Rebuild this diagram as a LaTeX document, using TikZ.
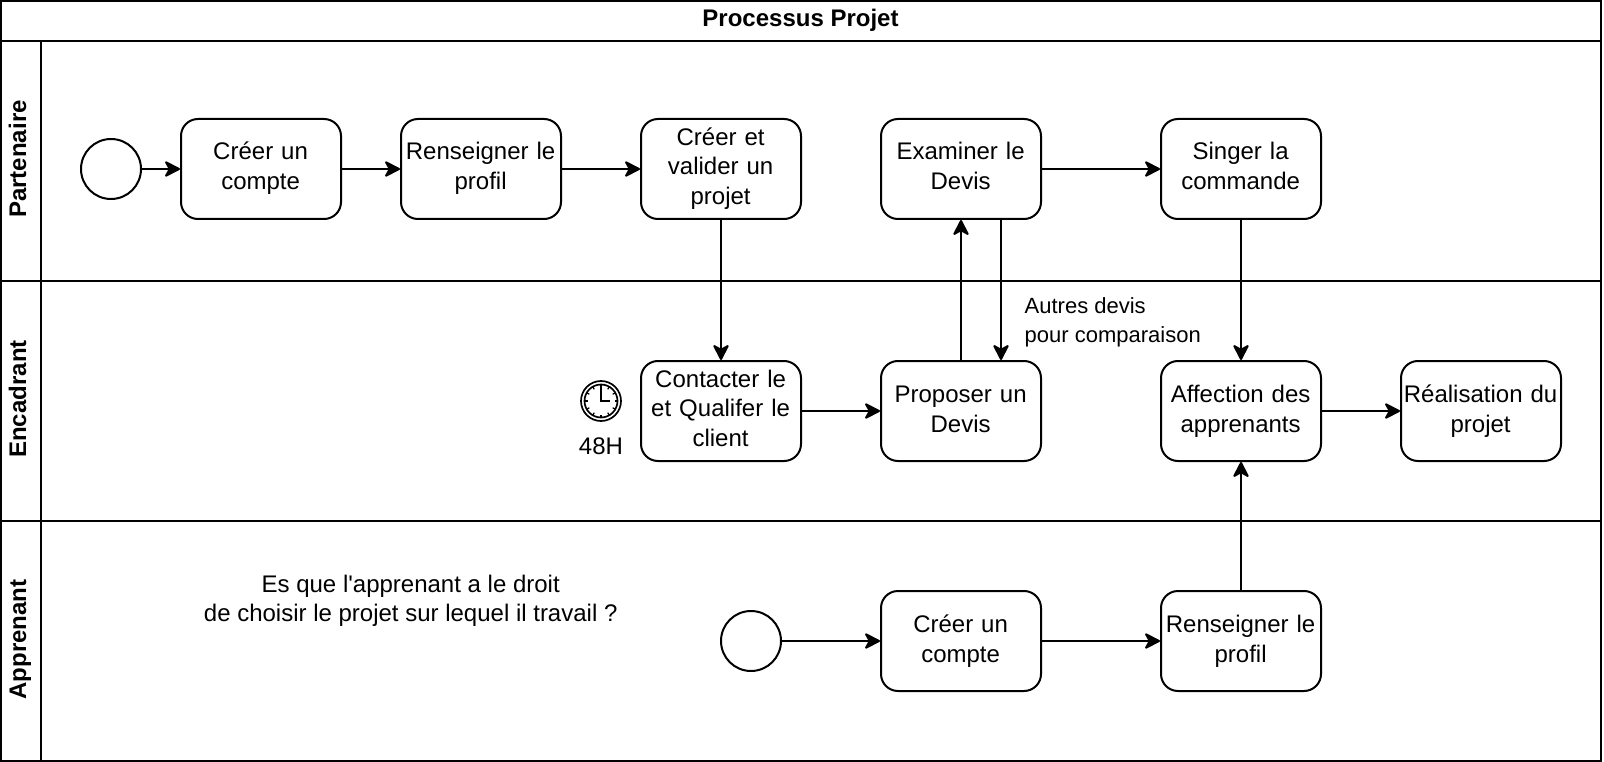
\documentclass[tikz,border=0pt]{standalone}
\usepackage{fontspec}
\setmainfont{Liberation Sans}[Ligatures=TeXOff]
\usetikzlibrary{arrows.meta,calc}
\tikzset{
  ln/.style={draw=black,line width=2pt},
  lanebox/.style={ln,fill=white,inner sep=0pt,outer sep=0pt},
  lanelabel/.style={rotate=90,anchor=base,font=\fontsize{24}{29}\selectfont\bfseries,inner sep=0pt},
  task/.style={ln,fill=white,rounded corners=17pt,minimum width=160pt,minimum height=100pt,text width=160pt,inner sep=0pt,outer sep=0pt,align=center,font=\fontsize{24}{29.5}\selectfont,
    execute at begin node={\advance\rightskip by 0.8pt\strut},execute at end node={\strut}},
  twoline/.style={yshift=0pt,font=\fontsize{24}{30}\selectfont},
  startev/.style={ln,circle,fill=white,minimum size=60pt,inner sep=0pt,outer sep=0pt},
  flow/.style={ln,-{Stealth[length=17.5pt,width=18pt,inset=5pt,round=false]},shorten >=1pt},
  plain/.style={inner sep=0pt,align=center,font=\fontsize{24}{29.5}\selectfont},
}
\begin{document}
\begin{tikzpicture}[x=1pt,y=-1pt]
\useasboundingbox (0,0) rectangle (1604,762);
\fill[white] (0,0) rectangle (1604,762);
% pool and lanes
\node[lanebox,minimum width=1600pt,minimum height=40pt] (title) at (801,21) {};
\node[anchor=base,inner sep=0pt,font=\fontsize{24}{29}\selectfont\bfseries] (titletext) at (800.5,26.3) {Processus Projet};
\node[lanebox,minimum width=1600pt,minimum height=240pt] (l1) at (801,161) {};
\node[lanebox,minimum width=1600pt,minimum height=240pt] (l2) at (801,401) {};
\node[lanebox,minimum width=1600pt,minimum height=240pt] (l3) at (801,641) {};
\node[lanebox,minimum width=40pt,minimum height=240pt] (s1) at (21,161) {};
\node[lanebox,minimum width=40pt,minimum height=240pt] (s2) at (21,401) {};
\node[lanebox,minimum width=40pt,minimum height=240pt] (s3) at (21,641) {};
\node[lanelabel] (t1) at (26,159) {Partenaire};
\node[lanelabel] (t2) at (26,399) {Encadrant};
\node[lanelabel] (t3) at (26,639.5) {Apprenant};
% lane 1
\node[startev] (st1) at (111,169) {};
\node[task,twoline] (a1) at (261,169) {Créer un\\compte};
\node[task,twoline] (a2) at (481,169) {Renseigner le\\profil};
\node[task] (a3) at (721,169) {Créer et\\valider un\\projet};
\node[task,twoline] (a4) at (961,169) {Examiner le\\Devis};
\node[task,twoline] (a5) at (1241,169) {Singer la\\commande};
% lane 2
\node[task] (b1) at (721,411) {Contacter le\\et Qualifer le\\client};
\node[task,twoline] (b2) at (961,411) {Proposer un\\Devis};
\node[task,twoline] (b3) at (1241,411) {Affection des\\apprenants};
\node[task,twoline] (b4) at (1481,411) {Réalisation du\\projet};
% timer
\node[draw=black,line width=1.7pt,circle,minimum size=40pt,inner sep=0pt,outer sep=0pt] (clk) at (601,401) {};
\draw[line width=1.7pt] (clk) circle (16.5pt);
\foreach \a in {0,30,...,330} \draw[line width=1.2pt] ($(clk)+(\a:16pt)$) -- ($(clk)+(\a:13.5pt)$);
\draw[line width=1.5pt] ($(clk)+(0,-14)$) -- (clk.center) -- ($(clk)+(9,0)$);
\node[plain] (h48) at (601,446) {48H};
% lane 3
\node[startev] (st3) at (751,641) {};
\node[task,twoline] (c1) at (961,641) {Créer un\\compte};
\node[task,twoline] (c2) at (1241,641) {Renseigner le\\profil};
% free labels
\node[plain] (q) at (410.7,601) {Es que l'apprenant a le droit\\de choisir le projet sur lequel il travail ?};
\node[inner sep=0pt,align=left,anchor=west,font=\fontsize{22}{29}\selectfont] (ad) at (1024.5,322.5) {Autres devis\\pour comparaison};
% connectors
\draw[flow] (st1) -- (a1);
\draw[flow] (a1) -- (a2);
\draw[flow] (a2) -- (a3);
\draw[flow] (a4) -- (a5);
\draw[flow] (a3) -- (b1);
\draw[flow] (b1) -- (b2);
\draw[flow] (b2) -- (a4);
\draw[flow] ($(a4.south)+(40,0)$) -- ($(b2.north)+(40,0)$);
\draw[flow] (a5) -- (b3);
\draw[flow] (b3) -- (b4);
\draw[flow] (st3) -- (c1);
\draw[flow] (c1) -- (c2);
\draw[flow] (c2) -- (b3);
\end{tikzpicture}
\end{document}
